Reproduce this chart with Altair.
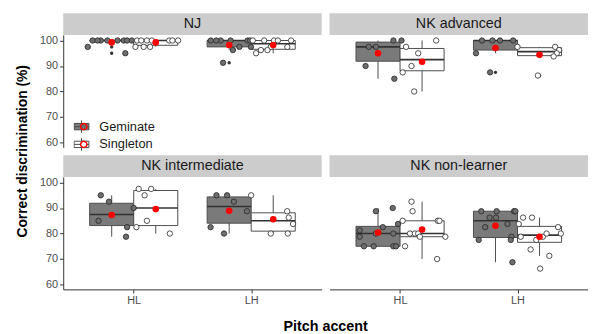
import altair as alt
import pandas as pd

panels = ["NJ", "NK advanced", "NK intermediate", "NK non-learner"]
groups = ["Geminate", "Singleton"]
accent_labels = ["HL", "LH"]

# --- % correct per participant, with horizontal jitter (category units)
nj_hl_gem = [97.5, 100, 100, 100, 100, 100, 100, 95, 100, 100]
nj_hl_gem_jx = [-0.204, -0.162, -0.093, -0.037, 0.103, 0.131, 0.172, 0.116, -0.12, 0.05]
nj_hl_sin = [100, 100, 100, 100, 97.5, 97.5, 97.5, 100, 100, 100]
nj_hl_sin_jx = [-0.159, -0.123, -0.075, -0.033, -0.173, -0.103, -0.048, 0.115, 0.142, 0.19]
nj_lh_gem = [100, 100, 100, 100, 100, 100, 97.5, 97.5, 96.25, 91.25]
nj_lh_gem_jx = [-0.156, -0.072, 0.012, 0.157, 0.179, -0.11, 0.087, 0.185, 0.032, -0.052]
nj_lh_sin = [100, 100, 100, 100, 100, 97.5, 97.5, 96.25, 96.25, 95]
nj_lh_sin_jx = [-0.077, 0.007, 0.04, 0.152, -0.174, 0.12, -0.02, -0.105, -0.049, -0.146]

adv_hl_gem = [97.5, 97.5, 100, 100, 90, 85]
adv_hl_gem_jx = [-0.079, -0.018, 0.131, 0.2, -0.106, 0.139]
adv_hl_sin = [97.5, 95, 100, 90, 87.5, 80]
adv_hl_sin_jx = [-0.136, -0.033, 0.12, -0.09, -0.165, -0.067]
adv_lh_gem = [100, 100, 100, 100, 95, 87.5]
adv_lh_gem_jx = [-0.115, -0.026, 0.038, 0.15, -0.166, -0.046]
adv_lh_sin = [97.5, 97.5, 96.25, 95, 93.75, 86.25]
adv_lh_sin_jx = [-0.188, 0.133, 0.167, 0.147, 0.12, -0.014]

int_hl_gem = [95, 92.5, 85, 90, 82.5, 78.75]
int_hl_gem_jx = [-0.093, -0.023, -0.112, 0.187, 0.131, 0.122]
int_hl_sin = [97.5, 97.5, 95, 85, 82.5, 80]
int_hl_sin_jx = [-0.145, -0.039, -0.095, -0.075, -0.165, 0.12]
int_lh_gem = [95, 95, 92.5, 88.75, 82.5, 80]
int_lh_gem_jx = [-0.108, -0.018, 0.04, 0.151, -0.158, -0.044]
int_lh_sin = [95, 88.75, 86.25, 83.75, 80, 80]
int_lh_sin_jx = [-0.188, 0.119, 0.132, 0.169, -0.021, 0.124]

nl_hl_gem = [88.75, 90, 82.5, 81.25, 80, 80, 78.75, 75, 75, 75, 75, 83.75]
nl_hl_gem_jx = [-0.018, 0.125, 0.041, -0.156, -0.018, 0.13, -0.156, -0.12, -0.037, 0.13, 0.153, 0.17]
nl_hl_sin = [92.5, 88.75, 85, 85, 85, 80, 80, 80, 78.75, 78.75, 75, 70]
nl_hl_sin_jx = [-0.09, -0.081, -0.165, 0.134, 0.148, -0.103, -0.061, -0.033, -0.019, 0.198, -0.145, 0.128]
nl_lh_gem = [88.75, 88.75, 88.75, 88.75, 83.75, 82.5, 86.25, 77.5, 78.75, 77.5, 68.75, 86.25]
nl_lh_gem_jx = [-0.121, 0.01, 0.158, 0.169, 0.102, -0.088, 0.004, -0.143, 0.136, 0.13, 0.144, -0.05]
nl_lh_sin = [86.25, 86.25, 83.75, 82.5, 80, 78.75, 78.75, 77.5, 73.75, 71.25, 66.25, 80]
nl_lh_sin_jx = [-0.14, -0.064, -0.177, 0.158, 0.181, -0.16, 0.028, -0.028, -0.076, 0.083, 0.005, 0.06]

series = {
    ("NJ", "HL", "Geminate"): (nj_hl_gem, nj_hl_gem_jx),
    ("NJ", "HL", "Singleton"): (nj_hl_sin, nj_hl_sin_jx),
    ("NJ", "LH", "Geminate"): (nj_lh_gem, nj_lh_gem_jx),
    ("NJ", "LH", "Singleton"): (nj_lh_sin, nj_lh_sin_jx),
    ("NK advanced", "HL", "Geminate"): (adv_hl_gem, adv_hl_gem_jx),
    ("NK advanced", "HL", "Singleton"): (adv_hl_sin, adv_hl_sin_jx),
    ("NK advanced", "LH", "Geminate"): (adv_lh_gem, adv_lh_gem_jx),
    ("NK advanced", "LH", "Singleton"): (adv_lh_sin, adv_lh_sin_jx),
    ("NK intermediate", "HL", "Geminate"): (int_hl_gem, int_hl_gem_jx),
    ("NK intermediate", "HL", "Singleton"): (int_hl_sin, int_hl_sin_jx),
    ("NK intermediate", "LH", "Geminate"): (int_lh_gem, int_lh_gem_jx),
    ("NK intermediate", "LH", "Singleton"): (int_lh_sin, int_lh_sin_jx),
    ("NK non-learner", "HL", "Geminate"): (nl_hl_gem, nl_hl_gem_jx),
    ("NK non-learner", "HL", "Singleton"): (nl_hl_sin, nl_hl_sin_jx),
    ("NK non-learner", "LH", "Geminate"): (nl_lh_gem, nl_lh_gem_jx),
    ("NK non-learner", "LH", "Singleton"): (nl_lh_sin, nl_lh_sin_jx),
}

rows = []
for (panel, accent, group), (vals, jx) in series.items():
    for v, j in zip(vals, jx):
        rows.append({"panel": panel, "accent": accent, "group": group,
                     "grp2": group, "value": v, "jit": j})
df = pd.DataFrame(rows)

W, H = 262, 114
HALF = 0.1875
FONT = "Liberation Sans"
GB = ["panel", "accent", "group", "xc"]

xc_expr = f"(datum.accent == 'HL' ? 1 : 2) + (datum.group == 'Geminate' ? -{HALF} : {HALF})"
xscale = alt.Scale(domain=[0.4, 2.6], nice=False, zero=False)
yscale = alt.Scale(domain=[58.1, 102.2], nice=False, zero=False)
xaxis = alt.Axis(values=[1, 2], labelExpr="datum.value == 1 ? 'HL' : 'LH'", title=None)
yaxis = alt.Axis(values=[60, 70, 80, 90, 100], title=None)


def X(f):
    return alt.X(f, type="quantitative", scale=xscale, axis=xaxis)


def Y(f):
    return alt.Y(f, type="quantitative", scale=yscale, axis=yaxis)


box_path = "M-1,-0.43H1V0.43H-1Z M0,-0.43V-0.85 M0,0.43V0.85 M-1,0H1"
legA = alt.Legend(title=None, orient="none", legendX=10.5, legendY=85,
                  symbolType=box_path, symbolSize=225, symbolStrokeColor="#4d4d4d",
                  symbolStrokeWidth=1, labelFontSize=13, labelColor="#1a1a1a",
                  labelFont=FONT, rowPadding=2, clipHeight=16, labelOffset=10)
legB = alt.Legend(title=None, orient="none", legendX=14.3, legendY=85,
                  symbolType="circle", symbolSize=40, symbolStrokeColor="red",
                  symbolStrokeWidth=1.5, labelFontSize=13, labelExpr="''",
                  labelFont=FONT, rowPadding=2, clipHeight=16)

base = alt.Chart().transform_calculate(xc=xc_expr)

strip_rect = alt.Chart().transform_aggregate(
    n="count()", groupby=["panel"]
).mark_rect(color="#cccccc").encode(
    x=alt.value(0), x2=alt.value(W), y=alt.value(-22), y2=alt.value(0))

strip_text = alt.Chart().transform_aggregate(
    n="count()", groupby=["panel"]
).mark_text(fontSize=14.5, color="#1a1a1a", font=FONT).encode(
    x=alt.value(W / 2), y=alt.value(-11), text="panel:N")

fences = base.transform_joinaggregate(
    q1="q1(value)", q3="q3(value)", groupby=["panel", "accent", "group"]
).transform_calculate(
    lo="datum.q1 - 1.5 * (datum.q3 - datum.q1)",
    hi="datum.q3 + 1.5 * (datum.q3 - datum.q1)")

whisker = fences.transform_filter(
    "datum.value >= datum.lo && datum.value <= datum.hi"
).transform_aggregate(
    wmin="min(value)", wmax="max(value)", groupby=GB
).mark_rule(color="#4d4d4d", strokeWidth=1).encode(
    x=X("xc"), y=Y("wmin"), y2="wmax:Q")

box = base.transform_aggregate(
    q1="q1(value)", q3="q3(value)", groupby=GB
).transform_calculate(
    xl=f"datum.xc - {HALF}", xr=f"datum.xc + {HALF}"
).mark_rect(stroke="#4d4d4d", strokeWidth=1).encode(
    x=X("xl"), x2="xr:Q", y=Y("q1"), y2="q3:Q",
    fill=alt.Fill("group:N", scale=alt.Scale(domain=groups, range=["#7a7a7a", "#ffffff"]),
                  legend=legA))

median = base.transform_aggregate(
    med="median(value)", groupby=GB
).transform_calculate(
    xl=f"datum.xc - {HALF}", xr=f"datum.xc + {HALF}"
).mark_rule(color="#333333", strokeWidth=1.6).encode(
    x=X("xl"), x2="xr:Q", y=Y("med"))

outl = fences.transform_filter(
    "datum.value < datum.lo || datum.value > datum.hi"
).mark_circle(color="#333333", size=12, opacity=1).encode(
    x=X("xc"), y=Y("value"))

pts = base.transform_calculate(xj="datum.xc + datum.jit").mark_circle(
    size=30, stroke="#262626", strokeWidth=0.8, opacity=1
).encode(
    x=X("xj"), y=Y("value"),
    color=alt.Color("grp2:N", scale=alt.Scale(range=["#6e6e6e", "#ffffff"]),
                    legend=legB))

mean = base.transform_aggregate(
    mn="mean(value)", groupby=GB
).mark_circle(color="#ff0000", size=45, opacity=1).encode(
    x=X("xc"), y=Y("mn"))

layered = alt.layer(strip_rect, strip_text, whisker, box, median, outl, pts, mean,
                    data=df).properties(width=W, height=H)

chart = layered.facet(
    row=alt.Row("prow:O", title="Correct discrimination (%)",
                header=alt.Header(labels=False, titleOrient="left", titleFontSize=14,
                                  titleFontWeight="bold", titleColor="#000000",
                                  titleFont=FONT, titlePadding=-1)),
    column=alt.Column("pcol:O", title="Pitch accent",
                      header=alt.Header(labels=False, titleOrient="bottom", titleFontSize=14.5,
                                        titleFontWeight="bold", titleColor="#000000",
                                        titleFont=FONT, titlePadding=4)),
    spacing={"row": 30, "column": 8},
    bounds="flush",
).transform_calculate(
    prow="(datum.panel == 'NJ' || datum.panel == 'NK advanced') ? 0 : 1",
    pcol="(datum.panel == 'NJ' || datum.panel == 'NK intermediate') ? 0 : 1",
).properties(
    padding={"left": 7, "top": 3, "right": 0, "bottom": 0}
).configure(font=FONT).configure_view(stroke=None).configure_axis(
    grid=False, domainColor="#333333", tickColor="#333333", labelColor="#4d4d4d",
    labelFontSize=11, labelFont=FONT, tickSize=3.7, labelPadding=2,
    domainWidth=1, tickWidth=1
)

chart.save("out.html", embed_options={"renderer": "svg", "actions": False})
